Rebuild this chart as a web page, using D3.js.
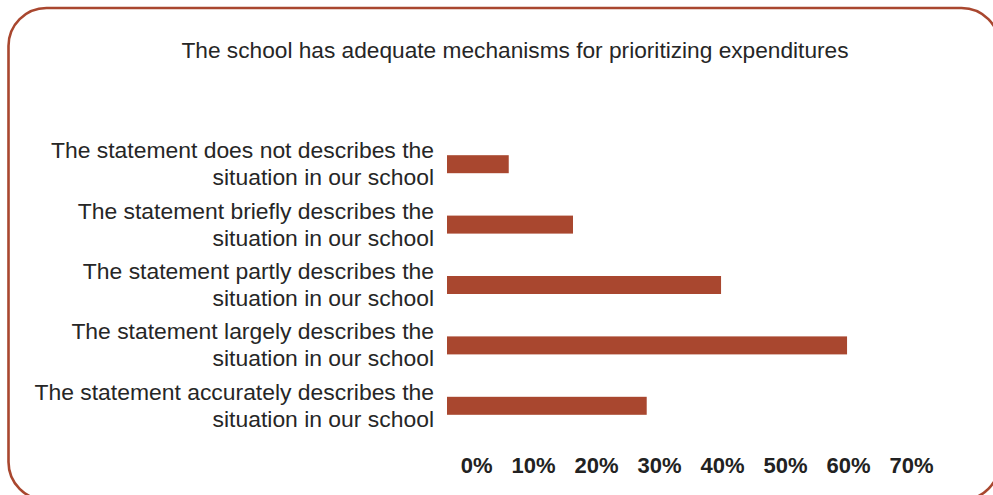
<!DOCTYPE html>
<html>
<head>
<meta charset="utf-8">
<script src="https://cdn.jsdelivr.net/npm/d3@7"></script>
<style>
  html, body { margin: 0; padding: 0; background: #ffffff; }
  svg { display: block; }
</style>
</head>
<body>
<script>
// Survey responses: share of schools per answer
const title = "The school has adequate mechanisms for prioritizing expenditures";
const categories = [
  "The statement does not describes the situation in our school",
  "The statement briefly describes the situation in our school",
  "The statement partly describes the situation in our school",
  "The statement largely describes the situation in our school",
  "The statement accurately describes the situation in our school"
];
const shares = [0.098, 0.20, 0.435, 0.635, 0.317];
const tickValues = [0, 0.1, 0.2, 0.3, 0.4, 0.5, 0.6, 0.7];

const W = 993, H = 495;
const barColor = "#a9472f";
const textColor = "#262626";
const font = "'Liberation Sans', Arial, sans-serif";

const svg = d3.select("body").append("svg")
  .attr("width", W).attr("height", H);

// Rounded frame
svg.append("rect")
  .attr("x", 8.5).attr("y", 8).attr("width", 991).attr("height", 492)
  .attr("rx", 38).attr("ry", 38)
  .attr("fill", "#ffffff")
  .attr("stroke", barColor).attr("stroke-width", 2.6);

// Title
svg.append("text")
  .attr("x", 515).attr("y", 58)
  .attr("text-anchor", "middle")
  .attr("font-family", font).attr("font-size", 22.7)
  .attr("fill", textColor)
  .text(title);

const x = d3.scaleLinear().domain([0, 0.7]).range([447, 888]);
const y = d3.scaleBand().domain(categories).range([134, 436]).paddingInner(0.7).paddingOuter(0.35);

// Bars
svg.append("g").selectAll("rect")
  .data(categories)
  .join("rect")
  .attr("x", x(0))
  .attr("y", d => y(d) + y.bandwidth() / 2 - 9)
  .attr("width", (d, i) => x(shares[i]) - x(0))
  .attr("height", 18)
  .attr("fill", barColor);

// Category labels, two lines each, right-aligned beside the bars
const labels = svg.append("g").selectAll("text")
  .data(categories)
  .join("text")
  .attr("text-anchor", "end")
  .attr("font-family", font).attr("font-size", 22.9)
  .attr("fill", textColor);

labels.each(function(d) {
  const cut = d.indexOf(" situation");
  const lines = [d.slice(0, cut), d.slice(cut + 1)];
  const cy = y(d) + y.bandwidth() / 2;
  d3.select(this).selectAll("tspan")
    .data(lines)
    .join("tspan")
    .attr("x", 434)
    .attr("y", (l, k) => cy - 6 + k * 27)
    .text(l => l);
});

// Percentage axis along the bottom
const axis = d3.axisBottom(x)
  .tickValues(tickValues)
  .tickFormat(d3.format(".0%"))
  .tickSize(0);

const ax = svg.append("g")
  .attr("transform", "translate(0,457)")
  .call(axis);
ax.select(".domain").remove();
ax.selectAll("text")
  .attr("text-anchor", "end")
  .attr("x", 45)
  .attr("y", 0)
  .attr("dy", "0.716em")
  .attr("font-family", font)
  .attr("font-size", 22)
  .attr("font-weight", "bold")
  .attr("fill", "#222222");
</script>
</body>
</html>
